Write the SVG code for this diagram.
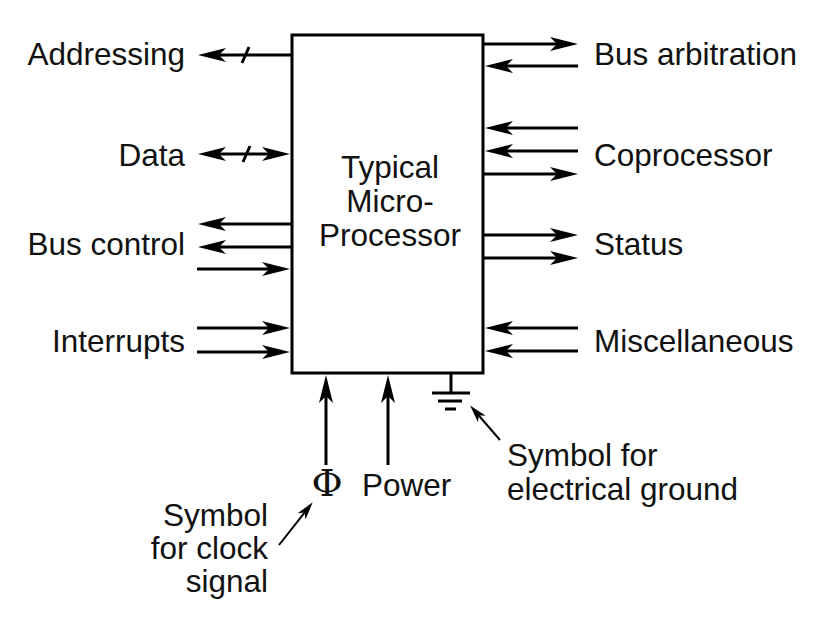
<svg xmlns="http://www.w3.org/2000/svg" width="832" height="638" viewBox="0 0 832 638">
<style>
.t{font-family:"Liberation Sans",Arial,sans-serif;font-size:31.5px;fill:#111}
.e{text-anchor:end}
.m{text-anchor:middle}
.w{stroke:#000;stroke-width:3;fill:none}
.a{marker-end:url(#ah)}
.b{marker-start:url(#ah);marker-end:url(#ah)}
.p{stroke:#000;stroke-width:2;fill:none;marker-end:url(#ph)}
</style>
<defs>
<marker id="ah" viewBox="0 0 28 14" markerWidth="28" markerHeight="14" refX="18" refY="7" orient="auto-start-reverse" markerUnits="userSpaceOnUse">
<path d="M28,7 L0,0 L7,7 L0,14 Z" fill="#000"/>
</marker>
<marker id="ph" viewBox="0 0 18 10" markerWidth="18" markerHeight="10" refX="12" refY="5" orient="auto" markerUnits="userSpaceOnUse">
<path d="M18,5 L0,0 L5,5 L0,10 Z" fill="#000"/>
</marker>
</defs>
<rect width="832" height="638" fill="#fff"/>

<g id="processor">
<rect x="292" y="35" width="191" height="338" class="w"/>
<text class="t m" x="390" y="178">Typical</text>
<text class="t m" x="390" y="212">Micro-</text>
<text class="t m" x="390" y="246">Processor</text>
</g>

<g id="addressing"><text class="t e" x="185" y="65">Addressing</text></g>
<g id="data"><text class="t e" x="185" y="166">Data</text></g>
<g id="bus-control"><text class="t e" x="185" y="255">Bus control</text></g>
<g id="interrupts"><text class="t e" x="185" y="352">Interrupts</text></g>
<g id="bus-arbitration"><text class="t" x="594" y="65">Bus arbitration</text></g>
<g id="coprocessor"><text class="t" x="594" y="166">Coprocessor</text></g>
<g id="status"><text class="t" x="594" y="255">Status</text></g>
<g id="miscellaneous"><text class="t" x="594" y="352">Miscellaneous</text></g>
<g id="clock"><text x="327" y="496" text-anchor="middle" style="font-family:'DejaVu Serif','Liberation Serif',serif;font-size:38px;fill:#111">Φ</text></g>
<g id="power"><text class="t" x="362" y="496">Power</text></g>
<g id="clock-note"><text class="t e" x="268" y="526">Symbol</text><text class="t e" x="268" y="559">for clock</text><text class="t e" x="268" y="592">signal</text></g>
<g id="ground-note"><text class="t" x="507" y="466">Symbol for</text><text class="t" x="507" y="500">electrical ground</text></g>
<g id="ground">
<line x1="451" y1="373" x2="451" y2="393" class="w"/>
<line x1="432" y1="393" x2="470" y2="393" class="w"/>
<line x1="438" y1="401" x2="462" y2="401" class="w"/>
<line x1="445" y1="409" x2="456" y2="409" class="w"/>
</g>

<g id="connectors">
<line x1="292" y1="55" x2="208" y2="55" class="w a"/>
<line x1="242" y1="63" x2="249" y2="47" class="w" stroke-width="2.5"/>
<line x1="208" y1="154" x2="280" y2="154" class="w b"/>
<line x1="243" y1="162" x2="250" y2="146" class="w" stroke-width="2.5"/>
<line x1="292" y1="224" x2="208" y2="224" class="w a"/>
<line x1="292" y1="247" x2="208" y2="247" class="w a"/>
<line x1="197" y1="269" x2="280" y2="269" class="w a"/>
<line x1="197" y1="328" x2="280" y2="328" class="w a"/>
<line x1="197" y1="352" x2="280" y2="352" class="w a"/>

<line x1="483" y1="44" x2="568" y2="44" class="w a"/>
<line x1="578" y1="66" x2="495" y2="66" class="w a"/>
<line x1="578" y1="128" x2="495" y2="128" class="w a"/>
<line x1="578" y1="151" x2="495" y2="151" class="w a"/>
<line x1="483" y1="174" x2="568" y2="174" class="w a"/>
<line x1="483" y1="235" x2="568" y2="235" class="w a"/>
<line x1="483" y1="258" x2="568" y2="258" class="w a"/>
<line x1="578" y1="328" x2="495" y2="328" class="w a"/>
<line x1="578" y1="351" x2="495" y2="351" class="w a"/>

<line x1="326" y1="465" x2="326" y2="385" class="w a"/>
<line x1="388" y1="465" x2="388" y2="385" class="w a"/>

<line x1="500" y1="440" x2="474" y2="410" class="p"/>
<line x1="279" y1="545" x2="309" y2="507" class="p"/>
</g>
</svg>
